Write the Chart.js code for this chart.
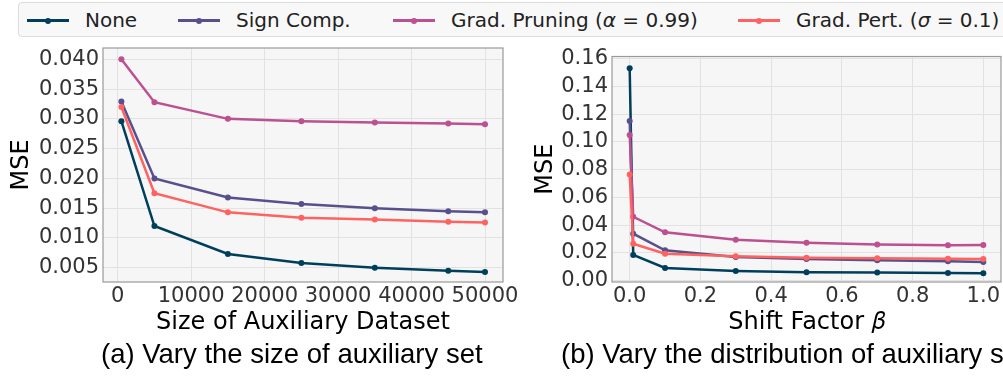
<!DOCTYPE html>
<html>
<head>
<meta charset="utf-8">
<script src="https://cdn.jsdelivr.net/npm/chart.js@4.4.1/dist/chart.umd.min.js"></script>
<style>
  html, body { margin: 0; padding: 0; background: #fff; }
  body { width: 1003px; height: 381px; overflow: hidden; position: relative; font-family: 'DejaVu Sans', sans-serif; }
  canvas { position: absolute; }
  #legend {
    position: absolute; left: 18px; top: 2px; width: 1010px; height: 35px;
    background: #f8f8f8; border: 1px solid #dcdcdc; border-radius: 4px; box-sizing: border-box;
  }
  .item { position: absolute; top: 0; height: 35px; font-size: 20px; color: #222; white-space: nowrap; }
  .item .ln { position: absolute; top: 16px; width: 42px; height: 2.5px; }
  .item .dot { position: absolute; top: 14.5px; left: 18px; width: 6px; height: 6px; border-radius: 50%; }
  .item .tx { position: absolute; left: 58px; top: 4px; line-height: 26px; }
  .cap { position: absolute; top: 339px; font-family: 'Liberation Sans', Arial, sans-serif; font-size: 27.5px; color: #000; white-space: nowrap; line-height: 30px; }
</style>
</head>
<body>
<div id="legend"></div>
<canvas id="chartA" width="525" height="305" style="left:0px;top:40px"></canvas>
<canvas id="chartB" width="520" height="305" style="left:520px;top:40px"></canvas>
<div class="cap" id="capA" style="left:101px">(a) Vary the size of auxiliary set</div>
<div class="cap" id="capB" style="left:561px">(b) Vary the distribution of auxiliary set</div>
<script>
// series names + colours
const methods = ['None', 'Sign Comp.', 'Grad. Pruning (<i>α</i> = 0.99)', 'Grad. Pert. (<i>σ</i> = 0.1)'];
const colors = ['#003f5c', '#58508d', '#bc5090', '#ff6361'];

// (a) size of auxiliary dataset
const auxSize = [500, 5000, 15000, 25000, 35000, 45000, 50000];
const sizeNone = [0.0296, 0.0120, 0.0073, 0.0058, 0.0050, 0.0045, 0.0043];
const sizeSign = [0.0329, 0.0200, 0.0168, 0.0157, 0.0150, 0.0145, 0.0143];
const sizePrune = [0.0400, 0.0328, 0.0300, 0.0296, 0.0294, 0.0292, 0.0291];
const sizePert = [0.0320, 0.0175, 0.0143, 0.0134, 0.0131, 0.0127, 0.0126];
const sizeTicks = [0, 10000, 20000, 30000, 40000, 50000];
const mseTicksA = [0.005, 0.010, 0.015, 0.020, 0.025, 0.030, 0.035, 0.040];

// (b) shift factor beta
const shift = [0, 0.01, 0.1, 0.3, 0.5, 0.7, 0.9, 1.0];
const shiftNone = [0.153, 0.0185, 0.0091, 0.0070, 0.0060, 0.0058, 0.0055, 0.0053];
const shiftSign = [0.115, 0.0338, 0.0218, 0.0170, 0.0156, 0.0146, 0.0139, 0.0134];
const shiftPrune = [0.105, 0.046, 0.0348, 0.0295, 0.0273, 0.0261, 0.0254, 0.0257];
const shiftPert = [0.0765, 0.0266, 0.0194, 0.0175, 0.0165, 0.0161, 0.0158, 0.0156];
const shiftTicks = [0.0, 0.2, 0.4, 0.6, 0.8, 1.0];
const mseTicksB = [0.00, 0.02, 0.04, 0.06, 0.08, 0.10, 0.12, 0.14, 0.16];

// legend (html, matplotlib-like box on top)
const legendLeft = [8, 159, 374, 719];
const legendEl = document.getElementById('legend');
methods.forEach((m, i) => {
  const d = document.createElement('div');
  d.className = 'item';
  d.style.left = legendLeft[i] + 'px';
  d.innerHTML = `<div class="ln" style="background:${colors[i]}"></div><div class="dot" style="background:${colors[i]}"></div><div class="tx">${m}</div>`;
  legendEl.appendChild(d);
});

// plot background + frame
const framePlugin = {
  id: 'frame',
  beforeDraw(chart) {
    const { ctx, chartArea: a } = chart;
    ctx.save();
    ctx.fillStyle = '#f6f6f6';
    ctx.fillRect(a.left, a.top, a.right - a.left, a.bottom - a.top);
    ctx.restore();
  },
  afterDraw(chart) {
    const { ctx, chartArea: a } = chart;
    ctx.save();
    ctx.strokeStyle = '#9a9a9a';
    ctx.lineWidth = 1.2;
    ctx.strokeRect(a.left, a.top, a.right - a.left, a.bottom - a.top);
    ctx.restore();
  }
};

function makeSets(xs, series) {
  return series.map((ys, i) => ({
    label: methods[i].replace(/<\/?i>/g, ''),
    data: xs.map((x, j) => ({ x: x, y: ys[j] })),
    borderColor: colors[i],
    backgroundColor: colors[i],
    borderWidth: 2.5,
    pointRadius: 3,
    pointBorderWidth: 0,
    pointBackgroundColor: colors[i],
    order: 4 - i,
    tension: 0
  }));
}

const tickFont = { family: 'DejaVu Sans', size: 21 };
const titleFont = { family: 'DejaVu Sans', size: 24 };

// no extra label padding, so the plot box sits where layout.padding says
function noPad(s) {
  s.paddingTop = 0; s.paddingBottom = 0; s.paddingLeft = 0; s.paddingRight = 0;
}

function makeChart(id, sets, opt) {
  return new Chart(document.getElementById(id), {
    type: 'line',
    data: { datasets: sets },
    plugins: [framePlugin],
    options: {
      responsive: false,
      animation: false,
      layout: { padding: opt.padding },
      plugins: { legend: { display: false }, tooltip: { enabled: false } },
      scales: {
        x: {
          type: 'linear',
          min: opt.xMin, max: opt.xMax,
          afterBuildTicks: s => { s.ticks = opt.xTicks.map(v => ({ value: v })); },
          afterFit: s => { s.height = 63; noPad(s); },
          grid: { color: '#e2e2e2', lineWidth: 1, drawTicks: false },
          border: { display: false },
          ticks: { font: tickFont, color: '#333', padding: 2, maxRotation: 0, autoSkip: false, callback: opt.xFmt },
          title: { display: true, text: opt.xTitle, font: titleFont, color: '#000', padding: { top: 0, bottom: 8 } }
        },
        y: {
          min: opt.yMin, max: opt.yMax,
          afterBuildTicks: s => { s.ticks = opt.yTicks.map(v => ({ value: v })); },
          afterFit: s => { s.width = opt.yWidth; noPad(s); },
          grid: { color: '#e2e2e2', lineWidth: 1, drawTicks: false },
          border: { display: false },
          ticks: { font: tickFont, color: '#333', padding: 4, autoSkip: false, callback: opt.yFmt },
          title: { display: true, text: 'MSE', font: titleFont, color: '#000', padding: { top: opt.yTitlePad, bottom: 0 } }
        }
      }
    }
  });
}

makeChart('chartA', makeSets(auxSize, [sizeNone, sizeSign, sizePrune, sizePert]), {
  padding: { left: 0, top: 8, right: 22, bottom: 0 },
  xMin: -2000, xMax: 52450, xTicks: sizeTicks, xFmt: v => String(v),
  yMin: 0.0026, yMax: 0.0419, yTicks: mseTicksA, yFmt: v => v.toFixed(3),
  yWidth: 103, yTitlePad: 7,
  xTitle: 'Size of Auxiliary Dataset'
});

makeChart('chartB', makeSets(shift, [shiftNone, shiftSign, shiftPrune, shiftPert]), {
  padding: { left: 0, top: 16.5, right: 39, bottom: 0 },
  xMin: -0.05, xMax: 1.05, xTicks: shiftTicks, xFmt: v => v.toFixed(1),
  yMin: -0.001, yMax: 0.1615, yTicks: mseTicksB, yFmt: v => v.toFixed(2),
  yWidth: 92, yTitlePad: 11,
  xTitle: 'Shift Factor 𝛽'
});
</script>
</body>
</html>
